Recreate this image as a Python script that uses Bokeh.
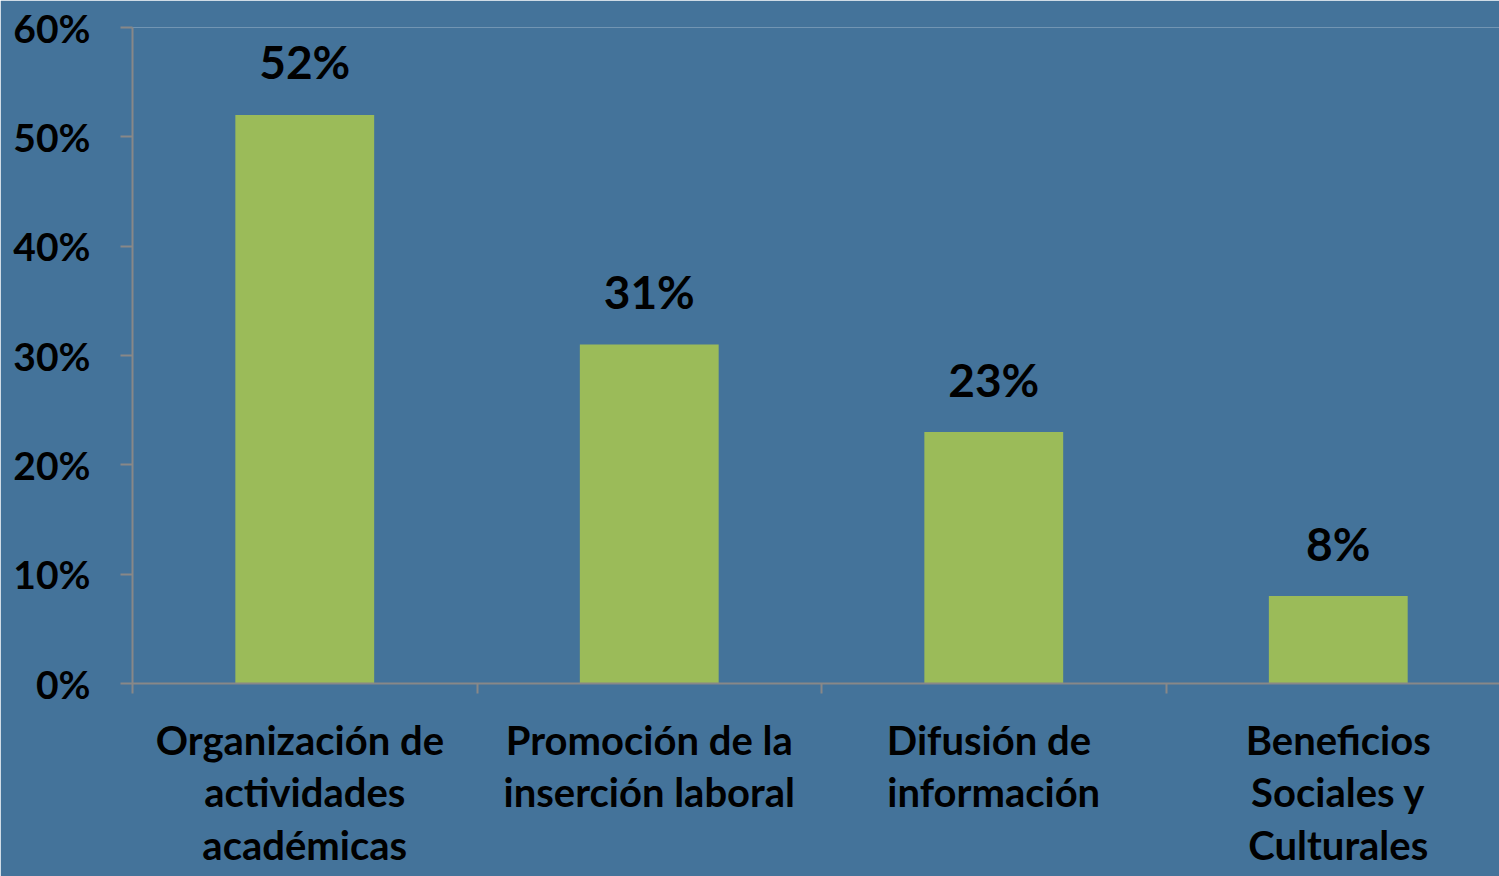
from bokeh.plotting import figure
from bokeh.models import FixedTicker, NumeralTickFormatter, Range1d, ColumnDataSource
from bokeh.core.properties import value
from bokeh.embed import file_html
from bokeh.resources import INLINE

categories = ["Organización  de\nactividades\nacadémicas",
              "Promoción de la\ninserción laboral",
              "Difusión  de\ninformación",
              "Beneficios\nSociales y\nCulturales"]
values = [0.52, 0.31, 0.23, 0.08]
y_ticks = [0.0, 0.1, 0.2, 0.3, 0.4, 0.5, 0.6]

FONT = "Lato"
BG = "#44739A"
BAR = "#9BBB59"
AXIS = "#888888"

xs = [i + 0.5 for i in range(len(categories))]
labels = [f"{round(v * 100)}%" for v in values]
src = ColumnDataSource(dict(x=xs, top=values, label=labels))

p = figure(width=1499, height=876, output_backend="svg", toolbar_location=None,
           x_range=Range1d(0, 3.968), y_range=Range1d(0, 0.6),
           min_border_left=132, min_border_right=0, min_border_top=27,
           min_border_bottom=193)
p.background_fill_color = BG
p.border_fill_color = BG
p.outline_line_color = None
p.grid.visible = False

p.vbar(x="x", top="top", width=0.403, bottom=0, source=src,
       fill_color=BAR, line_color=None)
p.text(x="x", y="top", text="label", source=src, text_align="center",
       text_baseline="alphabetic", y_offset=-53,
       text_font=value(FONT), text_font_style="bold", text_font_size="46px",
       text_color="black")

# y axis
p.yaxis.ticker = FixedTicker(ticks=y_ticks)
p.yaxis.formatter = NumeralTickFormatter(format="0%")
p.yaxis.axis_line_color = AXIS
p.yaxis.axis_line_width = 2
p.yaxis.major_tick_line_color = AXIS
p.yaxis.major_tick_line_width = 2
p.yaxis.major_tick_out = 12
p.yaxis.major_tick_in = 0
p.yaxis.minor_tick_line_color = None
p.yaxis.major_label_text_font = FONT
p.yaxis.major_label_text_font_style = "bold"
p.yaxis.major_label_text_font_size = "39px"
p.yaxis.major_label_text_color = "black"
p.yaxis.major_label_standoff = 30

# x axis
p.xaxis.ticker = FixedTicker(ticks=xs, minor_ticks=list(range(len(categories) + 1)))
p.xaxis.major_label_overrides = {x: c for x, c in zip(xs, categories)}
p.xaxis.axis_line_color = AXIS
p.xaxis.axis_line_width = 2
p.xaxis.major_tick_line_color = None
p.xaxis.minor_tick_line_color = AXIS
p.xaxis.minor_tick_line_width = 2
p.xaxis.minor_tick_out = 10
p.xaxis.minor_tick_in = 0
p.xaxis.major_label_text_font = FONT
p.xaxis.major_label_text_font_style = "bold"
p.xaxis.major_label_text_font_size = "40px"
p.xaxis.major_label_text_color = "black"
p.xaxis.major_label_standoff = 22
p.xaxis.major_label_text_line_height = 1.1

open("out.html", "w").write(file_html(p, INLINE))
